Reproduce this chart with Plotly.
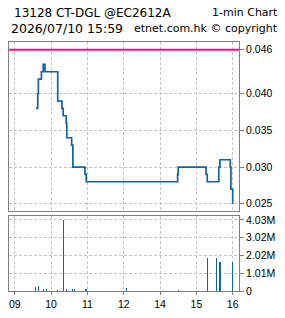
import plotly.graph_objects as go

# ---- data ----
price_times = ["09:35", "09:38", "09:39", "09:44", "09:47", "09:50", "10:11", "10:18", "10:20",
               "10:25", "10:26", "10:34", "10:36", "10:56", "10:58", "14:29", "14:30", "15:16",
               "15:18", "15:37", "15:39", "15:56", "15:57", "16:00"]
price_values = [0.038, 0.040, 0.042, 0.043, 0.044, 0.043, 0.039, 0.038, 0.037,
                0.036, 0.034, 0.033, 0.030, 0.029, 0.028, 0.029, 0.030, 0.029,
                0.028, 0.030, 0.031, 0.030, 0.027, 0.025]

vol_times = ["09:35", "09:40", "09:47", "09:52", "10:11", "10:20", "10:26", "10:36", "10:38",
             "10:57", "10:58", "13:05", "14:30", "15:18", "15:33", "15:39", "15:59"]
vol_values = [200000, 260000, 90000, 90000, 40000, 4030000, 90000, 90000, 90000,
              90000, 90000, 150000, 50000, 1870000, 1870000, 1650000, 1650000]

ref_price = 0.046

x_tick_vals = [0, 60, 120, 180, 240, 300, 360]
x_tick_text = ["09", "10", "11", "12", "14", "15", "16"]
price_ticks = [0.025, 0.030, 0.035, 0.040, 0.046]
price_tick_text = ["0.025", "0.030", "0.035", "0.040", "0.046"]
vol_ticks = [0, 1007500, 2015000, 3022500, 4030000]
vol_tick_text = ["0", "1.01M", "2.02M", "3.02M", "4.03M"]

title_left1 = "13128 CT-DGL @EC2612A"
title_right1 = "1-min Chart"
title_left2 = "2026/07/10 15:59"
title_right2 = "etnet.com.hk © copyright"


def tmin(s):
    h, m = map(int, s.split(":"))
    mins = (h - 9) * 60 + m
    if h >= 13:
        mins -= 60
    return mins


px_ = [tmin(t) for t in price_times]
vx_ = [tmin(t) for t in vol_times]

BLUE = "#1464a0"
GRID = "#c4c4c4"
AXIS = "#808080"
TICKFONT = dict(family="Liberation Sans, Arial", size=10.5, color="#000000")

fig = go.Figure()
fig.add_trace(go.Scatter(x=px_, y=price_values, mode="lines", line=dict(color=BLUE, width=1.7, shape="hv"),
                         xaxis="x", yaxis="y", hoverinfo="skip", showlegend=False))
fig.add_trace(go.Bar(x=vx_, y=vol_values, width=1.7, marker=dict(color=BLUE, line=dict(width=0)),
                     xaxis="x2", yaxis="y2", hoverinfo="skip", showlegend=False))

xr = [-9.5, 370.4]
common_x = dict(range=xr, tickvals=x_tick_vals, showgrid=True, gridcolor=GRID, griddash="3px,2px",
                gridwidth=1, showline=True, mirror=True, linecolor=AXIS, linewidth=1, zeroline=False,
                fixedrange=True)

fig.update_layout(
    width=285, height=318,
    margin=dict(l=8, r=46, t=42, b=20),
    paper_bgcolor="white", plot_bgcolor="white",
    bargap=0,
    xaxis=dict(**common_x, domain=[0, 1], anchor="y", showticklabels=False, ticks=""),
    yaxis=dict(domain=[0.3203, 1], anchor="x", side="right", range=[0.02398, 0.04706],
               tickvals=price_ticks, ticktext=price_tick_text, showgrid=True, gridcolor=GRID,
               griddash="3px,2px", showline=True, mirror=True, linecolor=AXIS, linewidth=1,
               ticks="outside", ticklen=4, tickcolor=AXIS, tickfont=TICKFONT, zeroline=False),
    xaxis2=dict(**common_x, domain=[0, 1], anchor="y2", ticktext=x_tick_text, ticks="outside",
                ticklen=3, tickcolor=AXIS, tickfont=TICKFONT),
    yaxis2=dict(domain=[0, 0.3008], anchor="x2", side="right", range=[0, 4250000],
                tickvals=vol_ticks, ticktext=vol_tick_text, showgrid=True, gridcolor=GRID,
                griddash="3px,2px", showline=True, mirror=True, linecolor=AXIS, linewidth=1,
                ticks="outside", ticklen=4, tickcolor=AXIS, tickfont=TICKFONT, zeroline=False),
    shapes=[dict(type="line", xref="x domain", yref="y", x0=0, x1=1, y0=ref_price, y1=ref_price,
                 line=dict(color="#ff0a82", width=2))],
)

W = 231.0
H = 256.0


def ax(px):
    return (px - 8) / W


def ay(py):
    return (298 - py) / H


def font(sz):
    return dict(family="DejaVu Sans", size=sz, color="#000000")


fig.add_annotation(text=title_left1, x=ax(11.5), y=ay(11.7), xref="paper", yref="paper",
                   xanchor="left", yanchor="middle", showarrow=False, font=font(12))
fig.add_annotation(text=title_right1, x=ax(280), y=ay(11.7), xref="paper", yref="paper",
                   xanchor="right", yanchor="middle", showarrow=False, font=font(11))
fig.add_annotation(text=title_left2, x=ax(8), y=ay(27.7), xref="paper", yref="paper",
                   xanchor="left", yanchor="middle", showarrow=False, font=font(12.5))
fig.add_annotation(text=title_right2, x=ax(280), y=ay(27.7), xref="paper", yref="paper",
                   xanchor="right", yanchor="middle", showarrow=False, font=font(11))

fig.write_html("out.html", config=dict(displayModeBar=False, staticPlot=True))
